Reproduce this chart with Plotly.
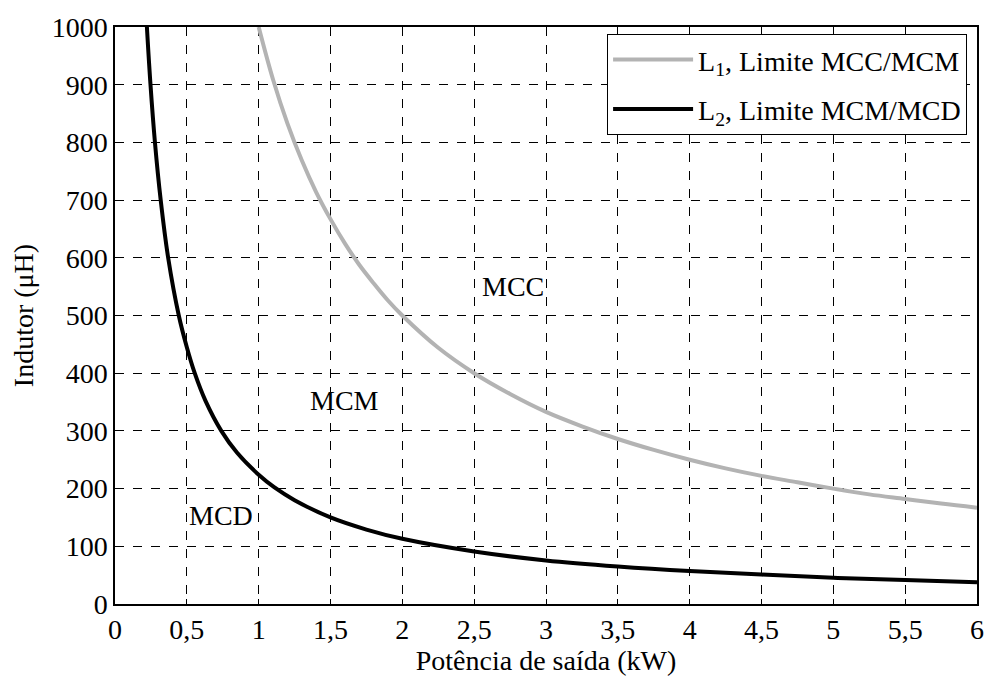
import plotly.graph_objects as go

# L1: limite MCC/MCM
l1_x = [1.0, 1.1, 1.2, 1.3, 1.4, 1.5, 1.6, 1.7, 1.8, 1.9, 2.0, 2.25, 2.5, 2.75, 3.0,
        3.25, 3.5, 3.75, 4.0, 4.25, 4.5, 4.75, 5.0, 5.25, 5.5, 5.75, 6.0]
l1_y = [1000, 909, 833, 769, 714, 667, 625, 588, 556, 526, 500, 444, 400, 364, 333,
        308, 286, 267, 250, 235, 222, 211, 200, 190, 182, 174, 167]

# L2: limite MCM/MCD
l2_x = [0.222, 0.247, 0.278, 0.318, 0.37, 0.444, 0.5, 0.555, 0.63, 0.74, 0.85, 1.0,
        1.11, 1.25, 1.5, 1.75, 2.0, 2.5, 3.0, 3.5, 4.0, 4.5, 5.0, 5.5, 6.0]
l2_y = [1000, 900, 800, 700, 600, 500, 445, 400, 352, 300, 262, 224,
        202, 180, 150, 129, 113, 91, 75.5, 65, 57, 51, 45.5, 41.5, 37.6]

x_ticks = [0, 0.5, 1, 1.5, 2, 2.5, 3, 3.5, 4, 4.5, 5, 5.5, 6]
x_tick_text = ["0", "0,5", "1", "1,5", "2", "2,5", "3", "3,5", "4", "4,5", "5", "5,5", "6"]
y_ticks = [0, 100, 200, 300, 400, 500, 600, 700, 800, 900, 1000]

region_labels = ["MCC", "MCM", "MCD"]
region_x = [2.77, 1.60, 0.74]
region_y = [550, 352, 154]

FONT = "Liberation Serif, Times New Roman, serif"
FS = 28

fig = go.Figure()
fig.add_trace(go.Scatter(x=l1_x, y=l1_y, mode="lines", line=dict(color="#b3b3b3", width=4, shape="spline"),
                         name="L<sub>1</sub>, Limite MCC/MCM", legendgroup="a"))
fig.add_trace(go.Scatter(x=l2_x, y=l2_y, mode="lines", line=dict(color="black", width=4, shape="spline"),
                         name="L<sub>2</sub>, Limite MCM/MCD", legendgroup="b"))

for t, xx, yy in zip(region_labels, region_x, region_y):
    fig.add_annotation(x=xx, y=yy, text=t, showarrow=False, xref="x", yref="y",
                       font=dict(family=FONT, size=FS, color="black"))

axis_common = dict(showline=True, mirror=True, linecolor="black", linewidth=1.5,
                   showgrid=True, gridcolor="black", gridwidth=1, griddash="dash",
                   ticks="inside", ticklen=5, tickcolor="black", zeroline=False,
                   tickfont=dict(family=FONT, size=FS, color="black"))

fig.update_xaxes(range=[0, 6], tickvals=x_ticks, ticktext=x_tick_text,
                 title=dict(text="Potência de saída (kW)", font=dict(family=FONT, size=FS, color="black"), standoff=2),
                 **axis_common)
fig.update_yaxes(range=[0, 1000], tickvals=y_ticks,
                 title=dict(text="Indutor (μH)", font=dict(family=FONT, size=FS, color="black"), standoff=10),
                 **axis_common)

fig.update_layout(
    width=996, height=679,
    margin=dict(l=115, r=12, t=20, b=73),
    paper_bgcolor="white", plot_bgcolor="white",
    font=dict(family=FONT, size=FS, color="black"),
    showlegend=True,
    legend=dict(x=0.9885, y=0.988, xanchor="right", yanchor="top",
                bgcolor="white", bordercolor="black", borderwidth=1,
                tracegroupgap=10, itemwidth=80,
                font=dict(family=FONT, size=FS, color="black")),
)

fig.write_html("out.html")
